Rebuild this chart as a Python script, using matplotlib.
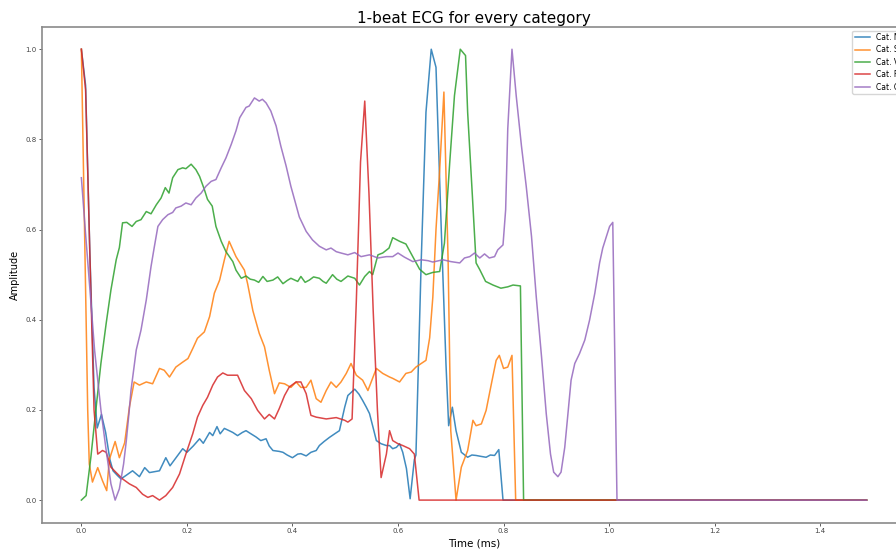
import matplotlib.pyplot as plt

LABELS = ['Cat. N', 'Cat. S', 'Cat. V', 'Cat. F', 'Cat. Q']

n_t = [0.0, 0.008, 0.016, 0.024, 0.03, 0.038, 0.046, 0.054, 0.06, 0.068, 0.075, 0.085, 0.097, 0.11,
       0.12, 0.129, 0.148, 0.16, 0.168, 0.18, 0.192, 0.2, 0.212, 0.224, 0.231, 0.243, 0.249, 0.257,
       0.263, 0.271, 0.28, 0.287, 0.296, 0.305, 0.312, 0.32, 0.331, 0.34, 0.35, 0.356, 0.363, 0.375,
       0.382, 0.39, 0.4, 0.41, 0.416, 0.426, 0.435, 0.445, 0.451, 0.46, 0.47, 0.48, 0.489, 0.499,
       0.505, 0.518, 0.526, 0.533, 0.54, 0.546, 0.553, 0.559, 0.568, 0.578, 0.584, 0.59, 0.597, 0.603,
       0.609, 0.616, 0.623, 0.631, 0.634, 0.644, 0.653, 0.663, 0.672, 0.682, 0.691, 0.696, 0.703, 0.71,
       0.72, 0.732, 0.74, 0.748, 0.757, 0.767, 0.775, 0.783, 0.791, 0.799, 1.488]
n_v = [1.0, 0.92, 0.55, 0.25, 0.16, 0.19, 0.15, 0.09, 0.065, 0.055, 0.047, 0.055, 0.065, 0.052,
       0.072, 0.061, 0.065, 0.094, 0.076, 0.095, 0.114, 0.106, 0.12, 0.136, 0.126, 0.15, 0.143, 0.163,
       0.147, 0.159, 0.154, 0.15, 0.143, 0.15, 0.154, 0.148, 0.14, 0.132, 0.136, 0.12, 0.11, 0.108,
       0.106, 0.1, 0.094, 0.102, 0.103, 0.098, 0.106, 0.11, 0.121, 0.13, 0.139, 0.147, 0.154, 0.206,
       0.232, 0.246, 0.235, 0.221, 0.206, 0.192, 0.16, 0.132, 0.125, 0.121, 0.121, 0.114, 0.117, 0.125,
       0.106, 0.07, 0.003, 0.09, 0.1, 0.53, 0.86, 1.0, 0.96, 0.6, 0.3, 0.165, 0.206, 0.154,
       0.106, 0.095, 0.1, 0.099, 0.097, 0.095, 0.1, 0.099, 0.112, 0.0, 0.0]

s_t = [0.0, 0.006, 0.012, 0.015, 0.021, 0.031, 0.04, 0.048, 0.053, 0.064, 0.072, 0.082, 0.091, 0.1,
       0.11, 0.123, 0.135, 0.148, 0.157, 0.167, 0.179, 0.192, 0.202, 0.211, 0.22, 0.233, 0.243, 0.252,
       0.262, 0.271, 0.28, 0.293, 0.309, 0.315, 0.325, 0.337, 0.347, 0.356, 0.366, 0.375, 0.385, 0.397,
       0.407, 0.416, 0.426, 0.435, 0.445, 0.454, 0.464, 0.473, 0.483, 0.492, 0.502, 0.511, 0.521, 0.533,
       0.543, 0.559, 0.571, 0.584, 0.59, 0.603, 0.615, 0.625, 0.634, 0.644, 0.653, 0.66, 0.666, 0.672,
       0.679, 0.687, 0.695, 0.7, 0.71, 0.72, 0.732, 0.742, 0.748, 0.758, 0.767, 0.777, 0.786, 0.792,
       0.8, 0.808, 0.816, 0.823, 1.488]
s_v = [1.0, 0.6, 0.2, 0.08, 0.04, 0.072, 0.043, 0.021, 0.09, 0.13, 0.094, 0.127, 0.206, 0.262,
       0.255, 0.262, 0.258, 0.292, 0.288, 0.273, 0.295, 0.306, 0.314, 0.336, 0.359, 0.373, 0.407, 0.459,
       0.488, 0.533, 0.574, 0.54, 0.51, 0.48, 0.42, 0.37, 0.34, 0.288, 0.236, 0.26, 0.258, 0.25,
       0.262, 0.25, 0.25, 0.266, 0.225, 0.217, 0.243, 0.262, 0.25, 0.262, 0.281, 0.303, 0.277, 0.266,
       0.243, 0.292, 0.281, 0.273, 0.27, 0.262, 0.281, 0.284, 0.295, 0.303, 0.31, 0.36, 0.45, 0.6,
       0.733, 0.905, 0.53, 0.154, 0.0, 0.073, 0.11, 0.177, 0.165, 0.169, 0.199, 0.258, 0.31, 0.321,
       0.292, 0.295, 0.321, 0.0, 0.0]

v_t = [0.0, 0.009, 0.018, 0.028, 0.037, 0.047, 0.056, 0.066, 0.072, 0.078, 0.086, 0.096, 0.104, 0.113,
       0.123, 0.132, 0.142, 0.151, 0.159, 0.166, 0.173, 0.183, 0.192, 0.198, 0.208, 0.217, 0.224, 0.233,
       0.239, 0.248, 0.255, 0.265, 0.274, 0.287, 0.293, 0.303, 0.312, 0.32, 0.328, 0.336, 0.344, 0.352,
       0.363, 0.372, 0.382, 0.39, 0.397, 0.41, 0.416, 0.424, 0.432, 0.44, 0.451, 0.458, 0.464, 0.476,
       0.484, 0.492, 0.505, 0.518, 0.527, 0.537, 0.546, 0.552, 0.562, 0.571, 0.583, 0.59, 0.603, 0.615,
       0.628, 0.641, 0.653, 0.666, 0.679, 0.688, 0.698, 0.707, 0.718, 0.728, 0.732, 0.741, 0.748, 0.755,
       0.766, 0.78, 0.795, 0.808, 0.818, 0.832, 0.838, 1.488]
v_v = [0.0, 0.01, 0.095, 0.206, 0.303, 0.392, 0.466, 0.533, 0.56, 0.615, 0.616, 0.607, 0.618, 0.622,
       0.64, 0.635, 0.655, 0.67, 0.693, 0.681, 0.715, 0.733, 0.737, 0.735, 0.745, 0.733, 0.718, 0.689,
       0.667, 0.652, 0.607, 0.574, 0.551, 0.529, 0.51, 0.492, 0.497, 0.49, 0.488, 0.483, 0.496, 0.485,
       0.488, 0.495, 0.48, 0.487, 0.492, 0.485, 0.496, 0.483, 0.488, 0.495, 0.492, 0.485, 0.481, 0.5,
       0.49, 0.485, 0.497, 0.492, 0.477, 0.496, 0.507, 0.5, 0.544, 0.548, 0.559, 0.582, 0.574, 0.568,
       0.54, 0.512, 0.5, 0.505, 0.507, 0.57, 0.748, 0.897, 1.0, 0.986, 0.86, 0.674, 0.526, 0.511,
       0.485, 0.477, 0.47, 0.473, 0.477, 0.475, 0.0, 0.0]

f_t = [0.0, 0.008, 0.016, 0.024, 0.031, 0.04, 0.047, 0.056, 0.066, 0.078, 0.091, 0.104, 0.116, 0.126,
       0.135, 0.148, 0.16, 0.173, 0.186, 0.198, 0.211, 0.22, 0.23, 0.239, 0.249, 0.258, 0.268, 0.277,
       0.29, 0.296, 0.309, 0.322, 0.334, 0.347, 0.356, 0.366, 0.375, 0.385, 0.394, 0.407, 0.416, 0.426,
       0.435, 0.445, 0.464, 0.483, 0.499, 0.505, 0.513, 0.521, 0.529, 0.537, 0.545, 0.553, 0.561, 0.568,
       0.578, 0.584, 0.59, 0.6, 0.609, 0.622, 0.631, 0.64, 1.488]
f_v = [1.0, 0.91, 0.55, 0.2, 0.102, 0.11, 0.106, 0.073, 0.061, 0.047, 0.036, 0.028, 0.013, 0.006,
       0.01, 0.0, 0.01, 0.028, 0.058, 0.102, 0.147, 0.184, 0.21, 0.228, 0.255, 0.273, 0.282, 0.277,
       0.277, 0.277, 0.243, 0.225, 0.199, 0.18, 0.19, 0.18, 0.203, 0.232, 0.251, 0.262, 0.262, 0.236,
       0.188, 0.184, 0.18, 0.183, 0.177, 0.173, 0.18, 0.44, 0.75, 0.885, 0.68, 0.42, 0.2, 0.05,
       0.102, 0.154, 0.132, 0.125, 0.121, 0.114, 0.102, 0.0, 0.0]

q_t = [0.0, 0.008, 0.016, 0.025, 0.037, 0.047, 0.056, 0.064, 0.072, 0.08, 0.085, 0.09, 0.094, 0.104,
       0.113, 0.123, 0.132, 0.138, 0.145, 0.154, 0.164, 0.173, 0.179, 0.189, 0.198, 0.208, 0.217, 0.227,
       0.236, 0.246, 0.255, 0.265, 0.274, 0.284, 0.293, 0.3, 0.312, 0.318, 0.328, 0.337, 0.343, 0.35,
       0.359, 0.369, 0.378, 0.388, 0.397, 0.405, 0.413, 0.426, 0.438, 0.451, 0.464, 0.473, 0.483, 0.492,
       0.505, 0.518, 0.53, 0.546, 0.562, 0.578, 0.59, 0.6, 0.612, 0.628, 0.644, 0.657, 0.666, 0.685,
       0.7, 0.717, 0.726, 0.736, 0.745, 0.755, 0.764, 0.773, 0.783, 0.789, 0.799, 0.804, 0.808, 0.816,
       0.824, 0.834, 0.843, 0.853, 0.862, 0.872, 0.881, 0.889, 0.895, 0.903, 0.909, 0.916, 0.922, 0.928,
       0.935, 0.944, 0.954, 0.963, 0.973, 0.982, 0.988, 0.995, 1.001, 1.007, 1.015, 1.488]
q_v = [0.715, 0.59, 0.47, 0.333, 0.2, 0.11, 0.036, 0.0, 0.025, 0.08, 0.13, 0.19, 0.243, 0.333,
       0.377, 0.444, 0.518, 0.56, 0.607, 0.622, 0.633, 0.638, 0.648, 0.652, 0.659, 0.655, 0.67, 0.681,
       0.696, 0.707, 0.711, 0.737, 0.759, 0.789, 0.819, 0.848, 0.871, 0.874, 0.892, 0.885, 0.889, 0.881,
       0.863, 0.83, 0.785, 0.741, 0.696, 0.662, 0.628, 0.596, 0.577, 0.563, 0.555, 0.559, 0.551, 0.548,
       0.544, 0.549, 0.54, 0.544, 0.537, 0.54, 0.54, 0.548, 0.539, 0.529, 0.533, 0.531, 0.528, 0.533,
       0.529, 0.526, 0.537, 0.54, 0.548, 0.537, 0.546, 0.537, 0.54, 0.555, 0.566, 0.644, 0.823, 1.0,
       0.897, 0.785, 0.696, 0.585, 0.451, 0.318, 0.191, 0.102, 0.062, 0.052, 0.062, 0.117, 0.191, 0.266,
       0.303, 0.325, 0.355, 0.399, 0.459, 0.526, 0.559, 0.585, 0.607, 0.616, 0.0, 0.0]

SERIES = [(n_t, n_v), (s_t, s_v), (v_t, v_v), (f_t, f_v), (q_t, q_v)]

fig = plt.figure(figsize=(8.96, 5.56), dpi=100)
# the original screenshot is cropped on the right, so the axes run past the figure edge
ax = fig.add_axes([0.047, 0.060, 0.964, 0.892])

for (t, v), lab in zip(SERIES, LABELS):
    ax.plot(t, v, lw=1.1, alpha=0.85, label=lab)

ax.set_title('1-beat ECG for every category', fontsize=11, pad=3)
ax.set_xlabel('Time (ms)', fontsize=7.5, labelpad=3)
ax.set_ylabel('Amplitude', fontsize=7, labelpad=4)
ax.set_xticks([0.0, 0.2, 0.4, 0.6, 0.8, 1.0, 1.2, 1.4])
ax.set_yticks([0.0, 0.2, 0.4, 0.6, 0.8, 1.0])
ax.tick_params(labelsize=5, length=2, width=0.6, pad=2, colors='#444444')
for sp in ax.spines.values():
    sp.set_color('#8a8a8a')
    sp.set_linewidth(1.2)

ax.legend(loc='upper right', fontsize=5.5, borderpad=0.3, labelspacing=0.45,
          handlelength=2.0, borderaxespad=0.5, framealpha=0.8)

fig.savefig('out.png', dpi=100)
